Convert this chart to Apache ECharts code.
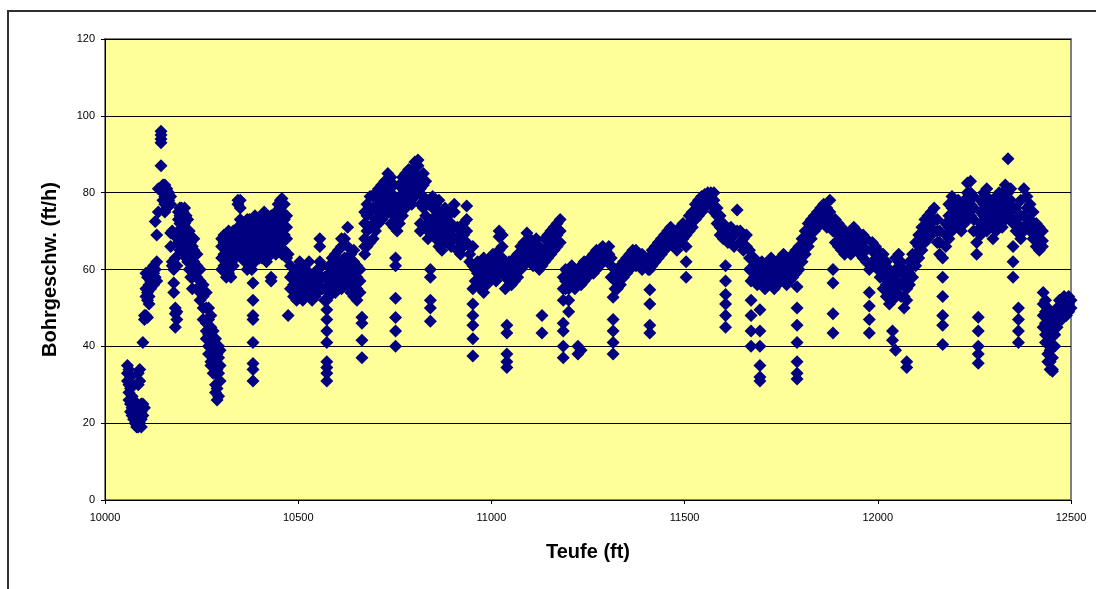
<!DOCTYPE html>
<html>
<head>
<meta charset="utf-8">
<script src="https://cdn.jsdelivr.net/npm/echarts@6/dist/echarts.min.js"></script>
<style>
html,body{margin:0;padding:0;background:#fff;}
#c{width:1096px;height:589px;}
</style>
</head>
<body>
<div id="c"></div>
<script>
// Each row: [depth (ft), ROP values (ft/h) read at that depth ...]
const seg1 = [
[10058,35,33,31],[10062,34,30,28,26],[10066,32,29,25,23],[10070,30,27,24,22],[10074,26,23,21],
[10078,25,22,20,24],[10082,22,20,19],[10086,33,30,21,19],[10090,34,31,24,22,20],[10094,25,23,21,19],
[10098,41,25,22],[10102,48,47,24],[10106,59,55,53,48],[10110,58,54,52,47.5],[10114,56,53,51],
[10118,60,57,55],[10122,59,58],[10126,61,59,56],[10130,72.5,60,58],[10134,69,62,57],[10138,81,75]
];
const seg2 = [
[10145,96,95,94,93,87],[10150,82,81,80,78],[10155,82,80,79,77,75],[10160,81,80,78,76],[10165,80,78,77],
[10170,79,77,69.5,66],[10174,70,62,61],[10178,69,60,56.5,54],[10182,63,50,48.5,45],[10186,61,49,47],
[10190,75,73,70,67],[10194,76,74,72,68,65],[10198,76,73,70,66],[10202,75,71,68],[10206,76,72,67,64],
[10210,74,70,66,63],[10214,73,69,65,62],[10218,70,67,62,60],[10222,67,64,60,58],[10226,66,62,58,55]
];
const seg3 = [
[10230,68,65,62,59],[10238,64,61,58,55],[10246,60,57,54,52],[10254,56,53,50,47],[10262,54,50,46,44,42],
[10268,50,47,43,40,38],[10274,48,45,41,38,36,35],[10280,44,40,37,35,33],[10286,42,39,36,33,30,28],
[10290,38,34,29,26],[10294,40,37,33,27],[10298,39,35,31]
];
const seg4 = [
[10302,60,63,66,68],[10308,61,64,67,69],[10314,58,62,65,68],[10320,59,63,66,70],[10326,58,62,65,69],
[10332,61,64,67,70],[10338,63,66,69],[10344,77,78,65,68,71],[10350,78,76,66,70,73],[10356,63,66,69,72],
[10362,62,65,68,72],[10368,60,64,67,71,73],[10374,61,65,69,73],[10380,60,63,67,71],
[10383,56.5,52,48,47,41,35.5,34,31],[10388,62,66,70,74],[10394,64,68,72],[10400,63,66,70,73]
];
const seg5 = [
[10406,63,67,71,74],[10412,64,68,72,75],[10418,62,66,70,73],[10424,65,69,73],[10430,57,58,64,68,72,74],
[10436,66,70,74],[10442,64,68,72,75],[10448,66,70,74,77],[10454,68,72,76,78],[10458,78.5,75,71,67,64],
[10464,77,73,69,65],[10470,74,71,68,63],[10474,64,48]
];
const seg6 = [
[10480,55,58,61],[10488,53,56,59],[10496,52,55,58,60],[10504,53,56,59,62],[10512,52,55,58,61],
[10520,54,57,60],[10528,53,56,59,62],[10536,52,55,58],[10544,53,56,59],[10550,54,57,60],
[10556,68,66,62],[10562,55,58,61],[10568,52,55,58],[10574,49.5,47,44,41,36,34.5,33,31,52],
[10580,53,56,59,61],[10588,55,58,61,63],[10596,54,57,60,64],[10604,56,59,62,65],[10612,55,58,61,66,68],
[10620,57,60,63,68],[10628,56,59,62,66,71],[10636,54,57,60,64],[10644,53,56,59,62,65],[10652,52,55,58,61],
[10660,54,57,60],[10665,47.6,46,41.6,37]
];
const seg7 = [
[10672,64,66,68,72,75],[10678,66,70,74,77],[10686,67,71,75,79],[10694,68,72,76,79],
[10700,70,73,76,80],[10708,72,75,78,81],[10716,73,76,79,82],[10724,74,77,80,83],[10732,75,78,82,85],
[10740,72,76,80,84],[10748,71,74,78,82],[10752,63,61,52.5,47.5,44,40],[10756,70,73,77],[10762,72,75,79,82],
[10770,74,78,81,84],[10778,76,79,83,85],[10786,78,81,84,86],[10794,77,80,83,86],[10802,79,82,85,88],
[10810,80,84,87,88.5],[10816,70,72,77,81,84],[10824,76,79,82,85],[10830,71,74,78,83],[10836,68,70,72,77],
[10842,60,58,52,50,46.5]
];
const seg8 = [
[10848,70,73,76,79],[10856,68,71,74,77],[10864,66,69,72,75,78],[10872,65,68,71,74],[10880,67,70,73,76],
[10888,68,71,74],[10896,66,69,72,75],[10904,68,71,75,77],[10912,65,68,71],[10920,64,67,70],
[10928,66,69,72],[10936,76.5,73,70,67],[10944,64,66,62],[10952,66,61,55,51,48,45.5,42,37.5],[10958,60,57]
];
const seg9 = [
[10964,56,59,62],[10972,55,58,61],[10980,54,57,60,63],[10988,56,59,62],[10996,57,60,63],[11004,58,61,64],
[11012,57,60,63],[11020,70,68.5,65,62,59],[11028,60,63,66,69],[11036,55,58,61],[11040,45.5,43.5,38,36,34.5],
[11046,56,59,62],[11052,56,58,61],[11060,57,60,63],[11068,58,61,64],[11076,60,63,66],[11084,61,64,67],
[11092,63,66,69.5],[11100,62,65,68],[11108,61,64,67],[11116,62,65,68],[11124,60,63,66],[11131,48,43.5,61,64],
[11138,62,65,68],[11146,63,66,69],[11154,64,67,70],[11162,65,68,71],[11170,66,69,72],[11178,67,70,73],
[11186,58,55,52,46,44,40,37],[11192,60,57,55],[11200,58,55,52,49]
];
const seg10 = [
[11208,56,59,61],[11216,55,58,60],[11224,40,38,57,60],[11232,56,58,61,39],[11240,57,59,62],[11248,58,60,62],
[11256,59,61,63],[11264,59,62,64],[11272,60,62,65],[11280,61,63,65],[11288,62,64,66],[11296,63,65],
[11304,64,66],[11310,63,61,58],[11315,52.8,47,44,41,38],[11320,55,57,60],[11326,55,58,60],[11334,56,59,61],
[11342,58,60,62],[11350,59,61,63],[11358,60,62,64],[11366,61,63,65],[11374,61,63,65],[11382,62,64],
[11390,60,62,64],[11398,61,63],[11406,60,62,63],[11410,60,54.7,51,45.5,43.5],[11416,61,63,65]
];
const seg11 = [
[11424,62,64,66],[11432,63,65,67],[11440,64,66,68],[11448,65,67,69],[11456,66,68,70],[11464,67,69,71],
[11472,66,68,70],[11480,65,67,69],[11488,67,69,71],[11496,68,70,72],[11504,62,58,66,69],[11512,70,72,74],
[11520,71,73,75],[11528,73,75,77],[11536,74,76,78],[11544,75,77,79],[11552,76,78,79.5],[11560,77,79,80],
[11568,77,79,80],[11576,75,78,80],[11584,72,74,76],[11592,69,71,74],[11600,68,70,72],
[11606,61,57,53.5,51,48,45],[11612,67,70],[11620,68,71],[11628,66,69],[11636,75.5,70],[11644,67,70],
[11652,65,68],[11660,66,69]
];
const seg12 = [
[11668,60,63,65],[11672,57,52,48,44,40],[11680,58,61,63],[11688,56,59,62],[11695,49.5,44,40,35,32,31],
[11700,57,60,62],[11708,55,58,61],[11716,56,59,62],[11724,57,60,63],[11732,55,58,61],[11740,56,59,62],
[11748,57,60,63],[11756,58,61,64],[11764,56,59,62],[11772,57,60,63],[11780,58,61,64],[11788,59,62,65],
[11791,55.5,50,45.5,41,36,33,31.5],[11796,60,63,66],[11804,62,65,68],[11812,64,67,70],[11820,66,69,72],
[11828,68,71,73],[11836,70,72,74],[11844,71,73,75],[11852,72,74,76],[11860,73,75,77],[11868,71,74,76],
[11876,72,75,78],[11884,70,72,60,56.5,48.5,43.5],[11890,67,70,73]
];
const seg13 = [
[11898,66,69,72],[11906,65,68,71],[11914,64,67,70],[11922,65,68],[11930,64,67,70],[11938,65,68,71],
[11946,66,69,70],[11954,64,67],[11962,63,66,69],[11970,62,65,68],[11978,60,54,50.5,47,43.5],[11986,62,65,67],
[11994,61,64,66],[12000,60,62,65],[12006,58,61,63],[12014,55,58,61,64],[12022,53,56,59,62],[12030,51,54,57,60],
[12038,52,55,58,44,41.6],[12046,54,57,60,63,39],[12054,56,59,62,64],[12060,53,56,60,62],[12068,50,53,57,60],
[12075,52,55,58,36,34.5],[12082,56,59,62],[12090,58,61,64],[12098,61,64,67],[12106,63,66,69]
];
const seg14 = [
[12114,65,68,71],[12122,67,70,73],[12130,68,71,74],[12138,69,72,75],[12146,70,73,76],[12154,67,70,73],
[12160,64,67,70],[12168,63,58,53,48,45.5,40.5],[12176,66,69,72],[12184,68,71,74,77],[12192,70,73,76,79],
[12200,71,74,77],[12208,72,75,78],[12216,70,73,76],[12224,72,75,78],[12232,73,76,80,82.5],[12240,74,77,80,83],
[12248,70,73,76,79],[12256,67,70,64],[12260,47.6,44,40,38,35.6]
];
const seg15 = [
[12266,69,72,75,78],[12274,71,74,77,80],[12282,70,73,76,79,81],[12290,72,75,78],[12298,68,71,74,77],
[12306,70,73,76,79],[12314,72,75,78,80],[12322,71,74,77,80],[12330,73,76,79,82],[12337,88.8,80,77,74],
[12344,75,78,81],[12350,66,62,58,72,76],[12358,70,73,76],[12364,50,47,44,41],[12370,68,71,74,78],
[12378,70,74,81],[12386,72,76,79],[12394,70,73,77],[12402,68,71,75],[12410,66,69,72],[12418,65,68,71],
[12426,66,67.5,70]
];
const seg16 = [
[12428,54,51,48,45],[12434,52,49,46,43,41],[12440,50,47,44,41,38,36],[12446,48,45,42,39,36,34],
[12452,47,44,40,37,34,33.5],[12458,49,46,43,40],[12464,50,48,45],[12470,52,50,47],[12476,51,49,47],
[12482,53,50,48],[12488,52,50,48],[12494,53,51,49],[12500,52,50]
];

const xTicks = {min: 10000, max: 12500, interval: 500};
const yTicks = {min: 0, max: 120, interval: 20};

const segments = [seg1,seg2,seg3,seg4,seg5,seg6,seg7,seg8,seg9,seg10,seg11,seg12,seg13,seg14,seg15,seg16];
const points = [];
segments.forEach(seg => seg.forEach(row => {
  for (let i = 1; i < row.length; i++) points.push([row[0], row[i]]);
}));

const chart = echarts.init(document.getElementById('c'), null, {renderer: 'canvas'});
const font = 'Arial, "Liberation Sans", sans-serif';
chart.setOption({
  backgroundColor: '#ffffff',
  animation: false,
  graphic: [{
    type: 'rect', shape: {x: 8, y: 11, width: 1300, height: 800},
    style: {fill: 'none', stroke: '#303030', lineWidth: 2}, z: -1
  }],
  grid: {
    left: 105, right: 25, top: 39, bottom: 89,
    show: true, backgroundColor: '#FFFF99', borderColor: '#808080', borderWidth: 2
  },
  xAxis: {
    type: 'value', min: xTicks.min, max: xTicks.max, interval: xTicks.interval,
    name: 'Teufe (ft)', nameLocation: 'middle', nameGap: 42,
    nameTextStyle: {fontFamily: font, fontSize: 20, fontWeight: 'bold', color: '#000'},
    axisLine: {lineStyle: {color: '#000', width: 1}},
    axisTick: {show: true, length: 4, lineStyle: {color: '#000'}},
    axisLabel: {fontFamily: font, fontSize: 11, color: '#000', margin: 12,
      formatter: v => String(v)},
    splitLine: {show: false}
  },
  yAxis: {
    type: 'value', min: yTicks.min, max: yTicks.max, interval: yTicks.interval,
    name: 'Bohrgeschw. (ft/h)', nameLocation: 'middle', nameGap: 45,
    nameTextStyle: {fontFamily: font, fontSize: 20, fontWeight: 'bold', color: '#000'},
    axisLine: {lineStyle: {color: '#000', width: 1}},
    axisTick: {show: true, length: 4, lineStyle: {color: '#000'}},
    axisLabel: {fontFamily: font, fontSize: 11, color: '#000', margin: 10},
    splitLine: {show: true, lineStyle: {color: '#000', width: 1}}
  },
  series: [{
    type: 'scatter',
    data: points,
    symbol: 'diamond',
    symbolSize: 13,
    itemStyle: {color: '#000080', opacity: 1},
    clip: false
  }]
});
</script>
</body>
</html>
